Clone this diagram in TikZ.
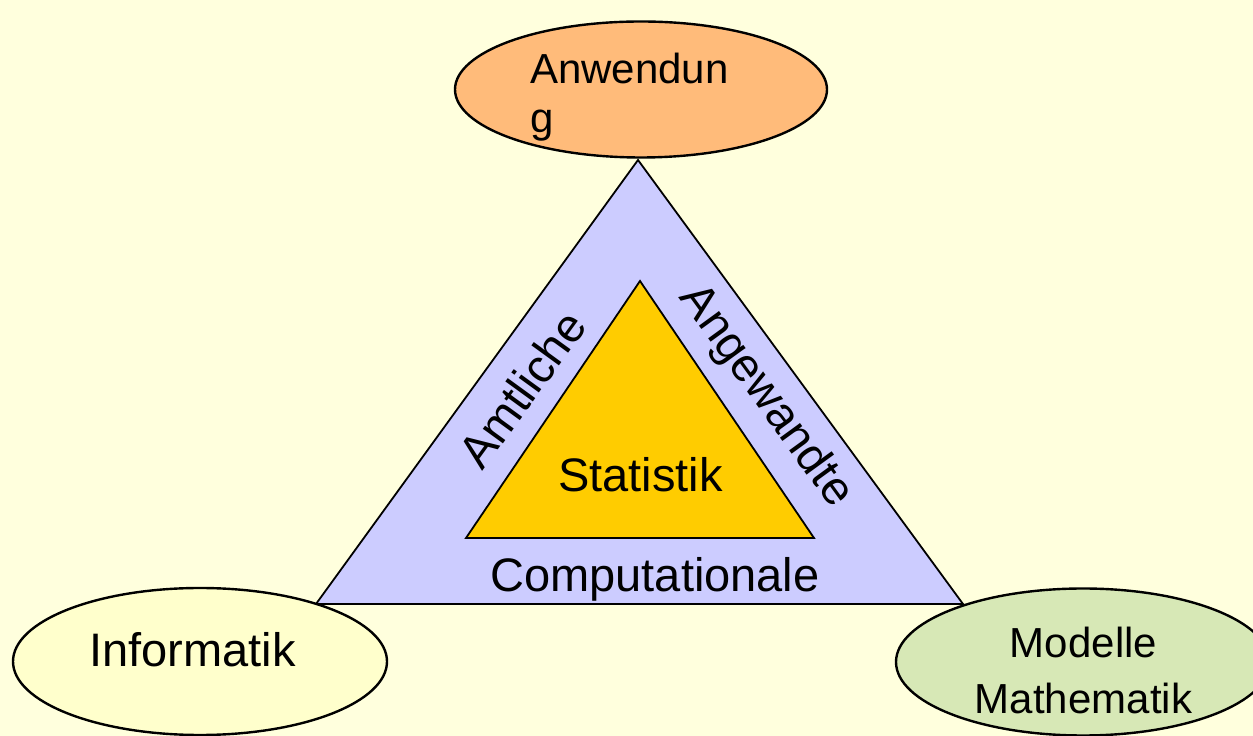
\documentclass[tikz,border=0pt]{standalone}
\usepackage{fontspec}
\setmainfont{Liberation Sans}
\usetikzlibrary{shapes.geometric}

\definecolor{bgyellow}{RGB}{255,255,221}
\definecolor{ringblue}{RGB}{204,204,255}
\definecolor{coregold}{RGB}{255,204,0}
\definecolor{applorange}{RGB}{255,187,122}
\definecolor{infoyellow}{RGB}{255,255,204}
\definecolor{mathgreen}{RGB}{215,232,182}

\tikzset{
  field/.style={ellipse, draw=black, line width=2.4pt, inner sep=0pt,
                minimum width=372pt, minimum height=136pt},
  tri/.style={draw=black, line width=1.8pt, line join=miter},
  bigtext/.style={font=\fontsize{47}{56}\selectfont, inner sep=0pt},
  smalltext/.style={font=\fontsize{42}{49}\selectfont, inner sep=0pt},
}

\begin{document}
\begin{tikzpicture}[x=1pt, y=1pt]
  % canvas
  \fill[bgyellow] (0,0) rectangle (1253,736);
  \useasboundingbox (0,0) rectangle (1253,736);

  % outer triangle
  \coordinate (oa) at (638,576);
  \coordinate (ob) at (316,132);
  \coordinate (oc) at (963,132);
  \filldraw[tri, fill=ringblue] (oa) -- (ob) -- (oc) -- cycle;

  % inner triangle
  \coordinate (ia) at (640,455);
  \coordinate (ib) at (466,198);
  \coordinate (ic) at (814,198);
  \filldraw[tri, fill=coregold] (ia) -- (ib) -- (ic) -- cycle;

  % labels of the triangle
  \node[bigtext, anchor=base] (stat) at (640.5,244) {Statistik};
  \node[bigtext, anchor=base] (comp) at (655,144) {Computationale};
  \node[bigtext, rotate=54, anchor=center] (amt) at (522,347) {Amtliche};
  \node[bigtext, rotate=-54, anchor=base] (ang) at (755.6,332.5) {Angewandte};

  % the three fields
  \node[field, fill=applorange] (anw) at (641,646.5) {};
  \node[smalltext, anchor=north west, align=left] (anwtext) at (530,683.6) {Anwendun\\g};

  \node[field, fill=infoyellow, minimum width=374pt, minimum height=147pt] (info) at (200,74.5) {};
  \node[bigtext, anchor=base] (infotext) at (192.5,69) {Informatik};

  \node[field, fill=mathgreen, minimum width=374pt, minimum height=147pt] (math) at (1083,74) {};
  \node[font=\fontsize{42}{56}\selectfont, inner sep=0pt, anchor=north, align=center] (mathtext) at (1083.5,109.6) {Modelle\\Mathematik};
\end{tikzpicture}
\end{document}
